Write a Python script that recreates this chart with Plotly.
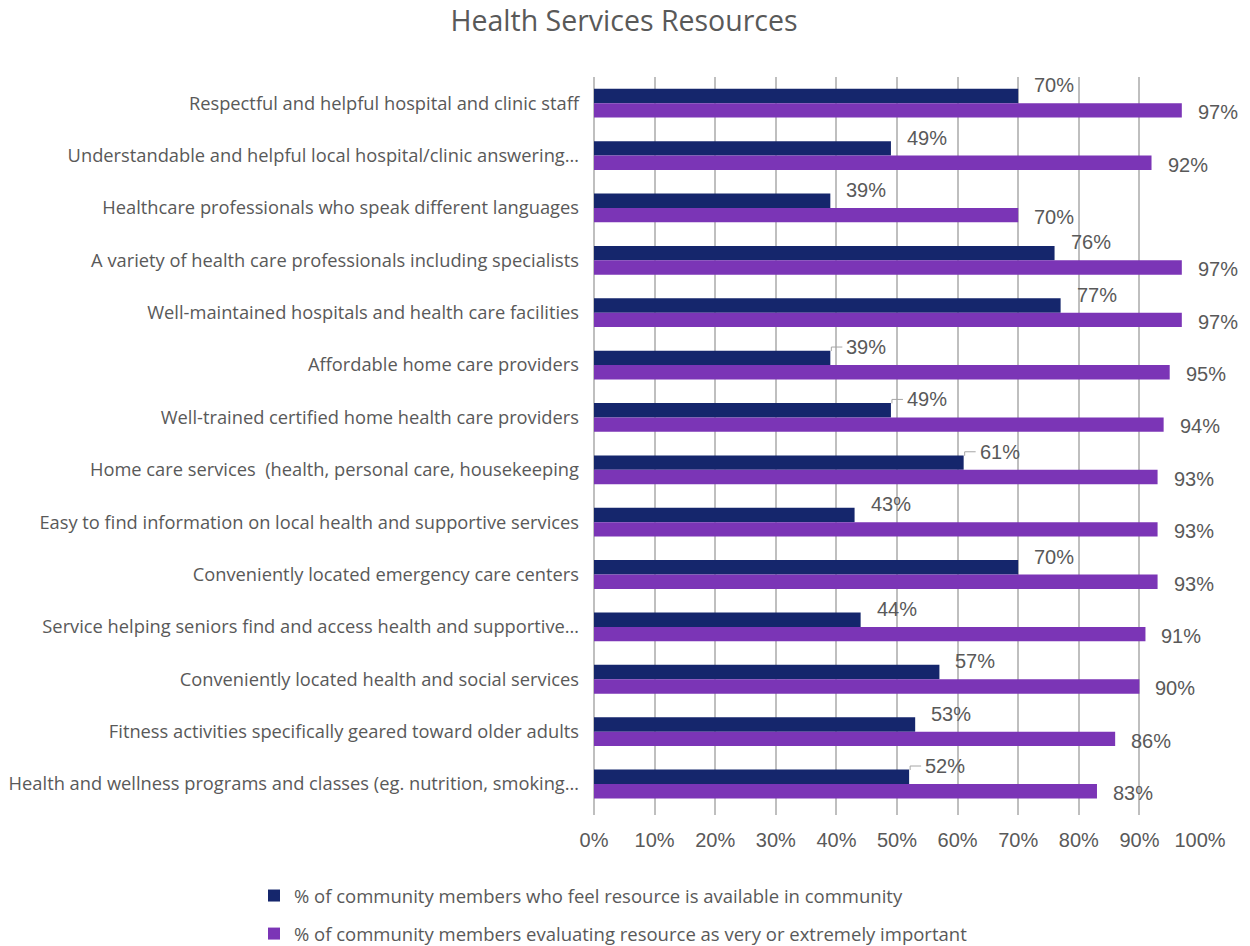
import plotly.graph_objects as go

categories = [
    "Respectful and helpful hospital and clinic staff",
    "Understandable and helpful local hospital/clinic answering…",
    "Healthcare professionals who speak different languages",
    "A variety of health care professionals including specialists",
    "Well-maintained hospitals and health care facilities",
    "Affordable home care providers",
    "Well-trained certified home health care providers",
    "Home care services  (health, personal care, housekeeping",
    "Easy to find information on local health and supportive services",
    "Conveniently located emergency care centers",
    "Service helping seniors find and access health and supportive…",
    "Conveniently located health and social services",
    "Fitness activities specifically geared toward older adults",
    "Health and wellness programs and classes (eg. nutrition, smoking…",
]
available = [70, 49, 39, 76, 77, 39, 49, 61, 43, 70, 44, 57, 53, 52]
important = [97, 92, 70, 97, 97, 95, 94, 93, 93, 93, 91, 90, 86, 83]
leader_lines = [False, False, False, False, False, True, True, True, False, False, False, False, False, True]
series_names = [
    "% of community members who feel resource is available in community",
    "% of community members evaluating resource as very or extremely important",
]
x_ticks = [0, 10, 20, 30, 40, 50, 60, 70, 80, 90, 100]
x_tick_labels = [f"{v}%" for v in x_ticks]

NAVY = "#15266C"
PURPLE = "#7B35B6"
TEXT = "#595959"
CAT_FONT = "Open Sans"
NUM_FONT = "Liberation Sans"

fig = go.Figure()
fig.add_trace(go.Bar(
    y=categories, x=available, orientation="h", name=series_names[0],
    marker=dict(color=NAVY, line=dict(width=0)), legendgroup="a",
    hoverinfo="x+y",
))
fig.add_trace(go.Bar(
    y=categories, x=important, orientation="h", name=series_names[1],
    marker=dict(color=PURPLE, line=dict(width=0)), legendgroup="b",
    hoverinfo="x+y",
))

annotations = []
shapes = []
for cat, v, lead in zip(categories, available, leader_lines):
    annotations.append(dict(
        x=v, y=cat, xref="x", yref="y", text=f"{v}%", showarrow=False,
        xanchor="left", yanchor="middle", xshift=14, yshift=18,
        font=dict(family=NUM_FONT, size=20, color=TEXT),
    ))
    if lead:
        shapes.append(dict(
            type="path", xref="x", yref="y", xsizemode="pixel", ysizemode="pixel",
            xanchor=v, yanchor=cat, path="M1,14 L1,18 L12,18",
            line=dict(color="#A6A6A6", width=1),
        ))
for cat, v in zip(categories, important):
    annotations.append(dict(
        x=v, y=cat, xref="x", yref="y", text=f"{v}%", showarrow=False,
        xanchor="left", yanchor="middle", xshift=14, yshift=-9,
        font=dict(family=NUM_FONT, size=20, color=TEXT),
    ))

fig.update_layout(
    width=1250, height=946,
    paper_bgcolor="white", plot_bgcolor="white",
    margin=dict(l=594, r=50, t=77, b=131, autoexpand=False),
    barmode="group", bargap=0.45, bargroupgap=0,
    title=dict(
        text="Health Services Resources", x=624 / 1250, xanchor="center",
        y=1 - 21 / 946, yanchor="middle",
        font=dict(family=CAT_FONT, size=28.5, color=TEXT),
    ),
    xaxis=dict(
        range=[0, 100], tickvals=x_ticks, ticktext=x_tick_labels,
        showgrid=True, gridcolor="#BFBFBF", gridwidth=1.5,
        zeroline=True, zerolinecolor="#BFBFBF", zerolinewidth=1.5,
        showline=False, ticks="",
        tickfont=dict(family=NUM_FONT, size=20, color=TEXT),
        ticklabelstandoff=11, fixedrange=True,
    ),
    yaxis=dict(
        autorange="reversed", showgrid=False, ticks="",
        tickfont=dict(family=CAT_FONT, size=18.3, color=TEXT),
        ticklabelstandoff=14, showline=False,
    ),
    legend=dict(
        orientation="v", xref="container", yref="container",
        x=254 / 1250, xanchor="left", y=1 - 877 / 946, yanchor="top",
        font=dict(family=CAT_FONT, size=18.5, color=TEXT),
        tracegroupgap=11, itemwidth=30, traceorder="grouped",
        bgcolor="rgba(0,0,0,0)",
    ),
    annotations=annotations,
    shapes=shapes,
    showlegend=True,
)

fig.write_html("out.html")
